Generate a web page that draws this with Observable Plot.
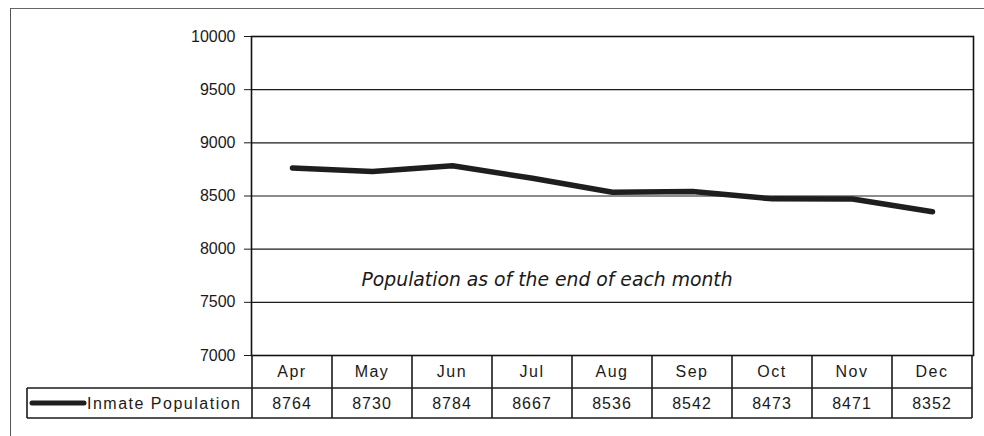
<!DOCTYPE html>
<html>
<head>
<meta charset="utf-8">
<script src="https://cdn.jsdelivr.net/npm/d3@7"></script>
<script src="https://cdn.jsdelivr.net/npm/@observablehq/plot@0.6"></script>
<style>
  html, body { margin: 0; padding: 0; background: #fff; overflow: hidden; }
  #wrap { position: relative; width: 984px; height: 436px; }
  #border { position: absolute; left: 10px; top: 8px; width: 1100px; height: 600px;
            border-left: 1.5px solid #555; border-top: 1.5px solid #666; }
  #chart { position: absolute; left: 0; top: 0; }
</style>
</head>
<body>
<div id="wrap"><div id="border"></div><div id="chart"></div></div>
<script>
const months = ["Apr", "May", "Jun", "Jul", "Aug", "Sep", "Oct", "Nov", "Dec"];
const population = [8764, 8730, 8784, 8667, 8536, 8542, 8473, 8471, 8352];
const yTicks = [7000, 7500, 8000, 8500, 9000, 9500, 10000];
const seriesName = "Inmate Population";
const note = "Population as of the end of each month";

const data = months.map((m, i) => ({month: m, value: population[i]}));
const font = "'Liberation Sans', Arial, sans-serif";
const spacing = "1px";

const plot = Plot.plot({
  width: 984,
  height: 436,
  marginLeft: 251,
  marginRight: 11,
  marginTop: 36,
  marginBottom: 81,
  style: {fontFamily: font, fontSize: "16px", color: "#1a1a1a", background: "transparent"},
  x: {type: "band", domain: months, padding: 0, axis: null},
  y: {domain: [7000, 10000], axis: null},
  marks: [
    Plot.ruleY(yTicks, {stroke: "#1a1a1a", strokeWidth: 1.2}),
    Plot.frame({stroke: "#111", strokeWidth: 1.6}),
    Plot.axisY(yTicks, {label: null, tickSize: 7, tickPadding: 9, fontSize: 16, stroke: "#1a1a1a", fill: "#1a1a1a",
      tickFormat: d => String(d), style: {letterSpacing: spacing}}),
    Plot.line(data, {x: "month", y: "value", stroke: "#1e1e1e", strokeWidth: 5.5, curve: "linear", strokeLinejoin: "round", strokeLinecap: "round"}),
    Plot.text([note], {x: () => "May", y: () => 7710, dx: -11, text: d => d, textAnchor: "start",
      fontStyle: "italic", fontSize: 18.8, fill: "#1a1a1a", fontFamily: "'DejaVu Sans', Verdana, sans-serif"})
  ]
});
document.getElementById("chart").appendChild(plot);

// Data table below the plot, positioned with the plot's own x and y scales
const xs = plot.scale("x");
const ys = plot.scale("y");
const bw = xs.bandwidth;
const svg = d3.select(plot);
const g = svg.append("g").attr("font-family", font).attr("font-size", 16).attr("fill", "#1a1a1a").attr("letter-spacing", spacing);
const tableTop = ys.apply(7000);
const rowH1 = 33, rowH2 = 30;
const tableLeft = 27;
const xR = xs.apply(months[months.length - 1]) + bw;
const ln = "#1a1a1a";
function hline(x1, x2, y) {
  g.append("line").attr("x1", x1).attr("x2", x2).attr("y1", y).attr("y2", y).attr("stroke", ln).attr("stroke-width", 1.6);
}
function vline(x, y1, y2) {
  g.append("line").attr("x1", x).attr("x2", x).attr("y1", y1).attr("y2", y2).attr("stroke", ln).attr("stroke-width", 1.6);
}
hline(tableLeft, xR, tableTop + rowH1);
hline(tableLeft, xR, tableTop + rowH1 + rowH2);
vline(tableLeft, tableTop + rowH1, tableTop + rowH1 + rowH2);
months.forEach(m => vline(xs.apply(m), tableTop, tableTop + rowH1 + rowH2));
vline(xR, tableTop, tableTop + rowH1 + rowH2);
data.forEach(d => {
  const cx = xs.apply(d.month) + bw / 2;
  g.append("text").attr("x", cx).attr("y", tableTop + rowH1 / 2).attr("dy", "0.35em").attr("text-anchor", "middle").attr("letter-spacing", "1.5px").text(d.month);
  g.append("text").attr("x", cx).attr("y", tableTop + rowH1 + rowH2 / 2).attr("dy", "0.35em").attr("text-anchor", "middle").text(d.value);
});
const ly = tableTop + rowH1 + rowH2 / 2;
g.append("line").attr("x1", tableLeft + 5).attr("x2", tableLeft + 57).attr("y1", ly).attr("y2", ly).attr("stroke", "#1e1e1e").attr("stroke-width", 5).attr("stroke-linecap", "round");
g.append("text").attr("x", tableLeft + 60).attr("y", ly).attr("dy", "0.35em").attr("text-anchor", "start").attr("letter-spacing", "1.5px").text(seriesName);
</script>
</body>
</html>
